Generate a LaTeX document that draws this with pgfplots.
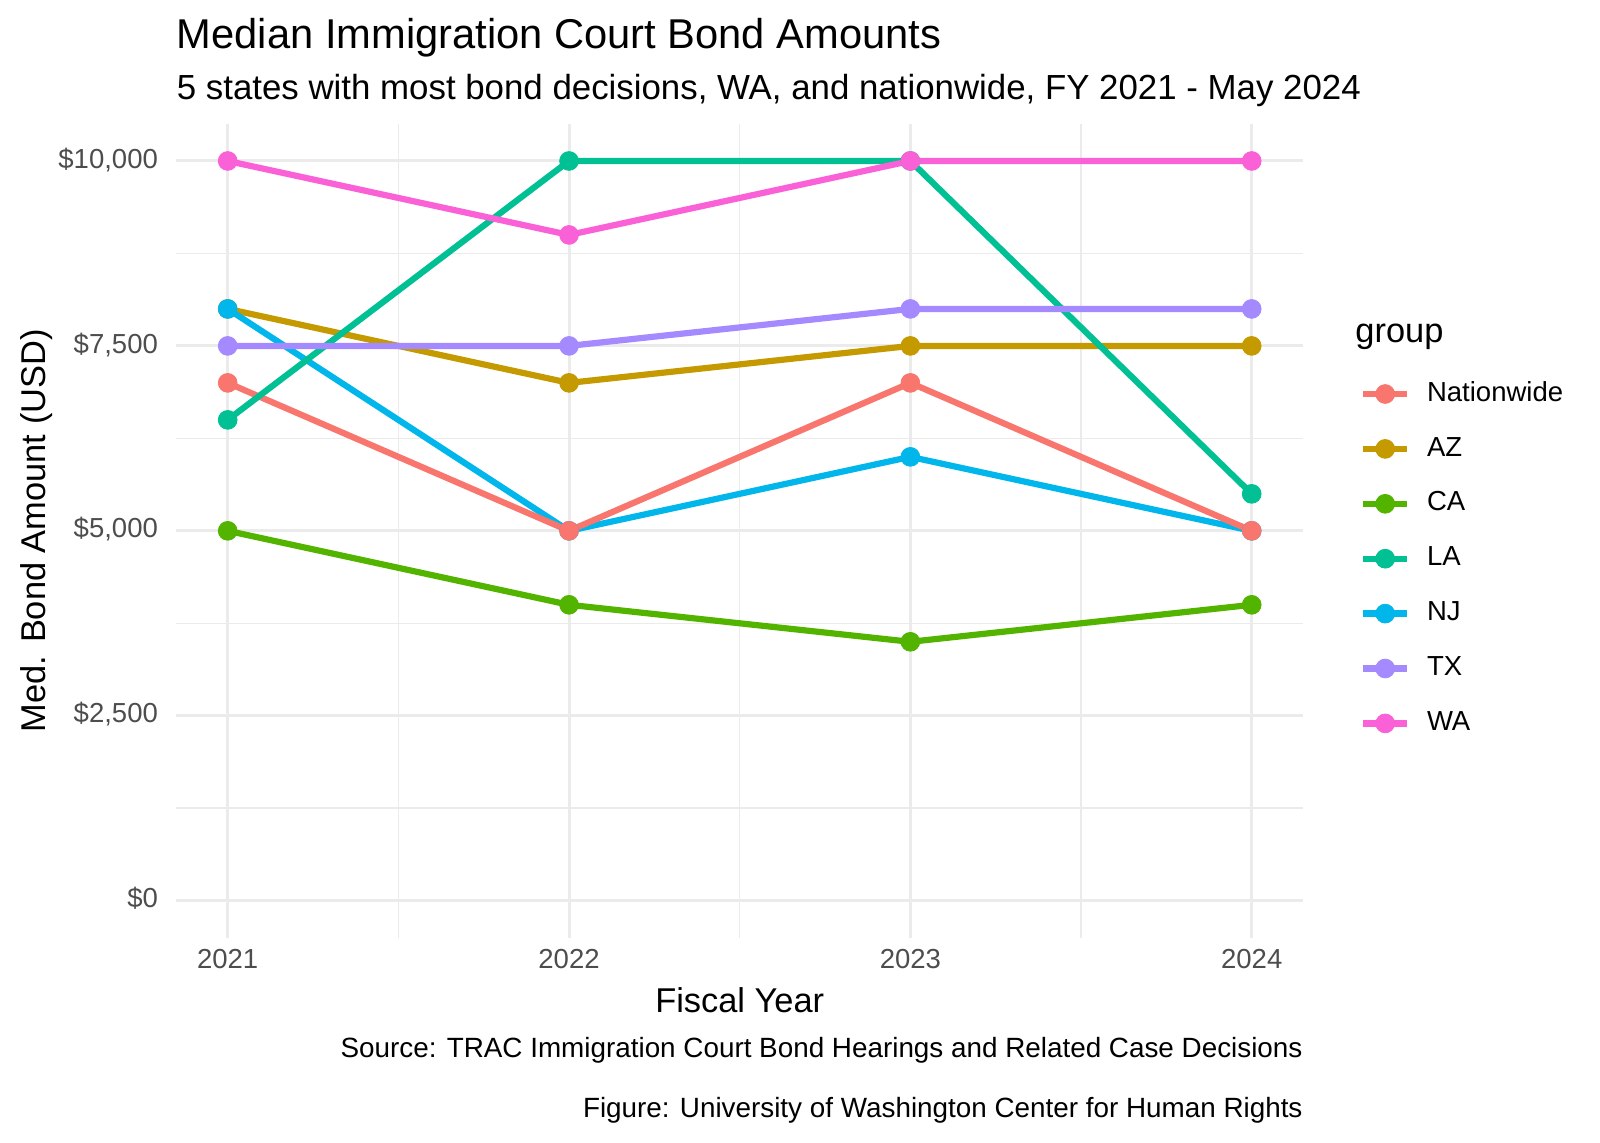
\documentclass[border=0pt]{standalone}
\usepackage{fontspec}
\setmainfont{Liberation Sans}
\usepackage{pgfplots}
\pgfplotsset{compat=1.18}
\definecolor{cNat}{HTML}{F8766D}
\definecolor{cAZ}{HTML}{C49A00}
\definecolor{cCA}{HTML}{53B400}
\definecolor{cLA}{HTML}{00C094}
\definecolor{cNJ}{HTML}{00B6EB}
\definecolor{cTX}{HTML}{A58AFF}
\definecolor{cWA}{HTML}{FB61D7}
\definecolor{gridc}{HTML}{EBEBEB}
\definecolor{tickc}{HTML}{4D4D4D}
\pgfplotsset{
  lin/.style={line width=3.1pt, line join=round, mark=none, forget plot},
  pts/.style={only marks, mark=*, mark size=4.7pt, mark options={draw=none}, forget plot},
}
\begin{document}
\begin{tikzpicture}
\path[use as bounding box] (0,0) rectangle (800pt,571.5pt);
\begin{axis}[
  at={(88.25pt,102.65pt)}, anchor=south west,
  scale only axis, width=563.2pt, height=406.85pt,
  xmin=2020.85, xmax=2024.15, ymin=-500, ymax=10500,
  scaled y ticks=false, scaled x ticks=false,
  axis line style={draw=none},
  major tick length=0pt, minor tick length=0pt,
  xtick={2021,2022,2023,2024}, xticklabels={2021,2022,2023,2024},
  ytick={0,2500,5000,7500,10000},
  yticklabels={{\$0},{\$2,500},{\$5,000},{\$7,500},{\$10,000}},
  minor xtick={2021.5,2022.5,2023.5},
  minor ytick={1250,3750,6250,8750},
  grid=both,
  major grid style={gridc, line width=1.5pt},
  minor grid style={gridc, line width=0.75pt},
  ticklabel style={font=\fontsize{13.76}{16}\selectfont, text=tickc, inner sep=0pt, text height=0.716em, text depth=0pt},
  xticklabel style={anchor=north, yshift=-8.15pt},
  yticklabel style={anchor=east, xshift=-9.1pt},
  legend style={at={(1.0507,0.6802)}, anchor=north west, draw=none, fill=none,
    inner sep=0pt, outer sep=0pt, row sep=17.65pt, column sep=8.3pt,
    font=\fontsize{13.76}{16}\selectfont,
    nodes={inner sep=0pt, text height=0.716em, text depth=0pt}},
  legend cell align=left,
  legend image code/.code={\draw[#1, line width=3.2pt] (0pt,0pt) -- (22pt,0pt); \fill[#1] (11pt,0pt) circle[radius=4.7pt];},
]
\addlegendimage{color=cNat}\addlegendentry{Nationwide}
\addlegendimage{color=cAZ}\addlegendentry{AZ}
\addlegendimage{color=cCA}\addlegendentry{CA}
\addlegendimage{color=cLA}\addlegendentry{LA}
\addlegendimage{color=cNJ}\addlegendentry{NJ}
\addlegendimage{color=cTX}\addlegendentry{TX}
\addlegendimage{color=cWA}\addlegendentry{WA}
% lines
\addplot[lin, color=cAZ] coordinates {(2021,8000) (2022,7000) (2023,7500) (2024,7500)};
\addplot[lin, color=cCA] coordinates {(2021,5000) (2022,4000) (2023,3500) (2024,4000)};
\addplot[lin, color=cNJ] coordinates {(2021,8000) (2022,5000) (2023,6000) (2024,5000)};
\addplot[lin, color=cNat] coordinates {(2021,7000) (2022,5000) (2023,7000) (2024,5000)};
\addplot[lin, color=cLA] coordinates {(2021,6500) (2022,10000) (2023,10000) (2024,5500)};
\addplot[lin, color=cTX] coordinates {(2021,7500) (2022,7500) (2023,8000) (2024,8000)};
\addplot[lin, color=cWA] coordinates {(2021,10000) (2022,9000) (2023,10000) (2024,10000)};
% points
\addplot[pts, color=cAZ] coordinates {(2021,8000) (2022,7000) (2023,7500) (2024,7500)};
\addplot[pts, color=cCA] coordinates {(2021,5000) (2022,4000) (2023,3500) (2024,4000)};
\addplot[pts, color=cNJ] coordinates {(2021,8000) (2022,5000) (2023,6000) (2024,5000)};
\addplot[pts, color=cNat] coordinates {(2021,7000) (2022,5000) (2023,7000) (2024,5000)};
\addplot[pts, color=cLA] coordinates {(2021,6500) (2022,10000) (2023,10000) (2024,5500)};
\addplot[pts, color=cTX] coordinates {(2021,7500) (2022,7500) (2023,8000) (2024,8000)};
\addplot[pts, color=cWA] coordinates {(2021,10000) (2022,9000) (2023,10000) (2024,10000)};
\end{axis}
\node[anchor=base west, inner sep=0pt, font=\fontsize{20.83}{24}\selectfont] at (88.25pt,547pt) {Median Immigration Court Bond Amounts};
\node[anchor=base west, inner sep=0pt, font=\fontsize{17.42}{20}\selectfont] at (88.25pt,521.85pt) {5 states with most bond decisions, WA, and nationwide, FY 2021 - May 2024};
\node[anchor=base west, inner sep=0pt, font=\fontsize{17.2}{20}\selectfont] at (677.5pt,400pt) {group};
\node[anchor=base, inner sep=0pt, font=\fontsize{17.2}{20}\selectfont] at (369.85pt,65pt) {Fiscal Year};
\node[anchor=base, rotate=90, inner sep=0pt, font=\fontsize{17.2}{20}\selectfont] at (23pt,306.1pt) {Med. Bond Amount (USD)};
\node[anchor=base east, inner sep=0pt, font=\fontsize{13.92}{16}\selectfont] at (651.45pt,42.5pt) {Source: TRAC Immigration Court Bond Hearings and Related Case Decisions};
\node[anchor=base east, inner sep=0pt, font=\fontsize{13.92}{16}\selectfont] at (651.45pt,12.5pt) {Figure: University of Washington Center for Human Rights};
\end{tikzpicture}
\end{document}
